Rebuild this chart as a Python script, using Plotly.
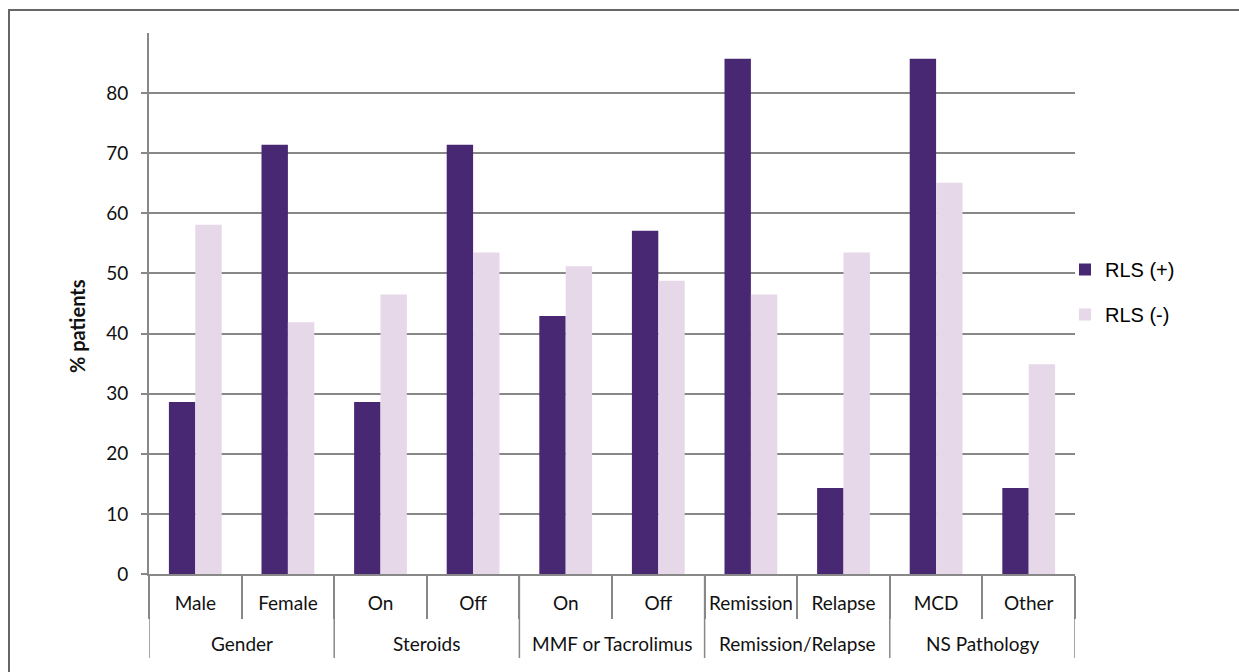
import plotly.graph_objects as go

groups = ["Gender", "Steroids", "MMF or Tacrolimus", "Remission/Relapse", "NS Pathology"]
subcats = ["Male", "Female", "On", "Off", "On", "Off", "Remission", "Relapse", "MCD", "Other"]
rls_pos = [28.6, 71.4, 28.6, 71.4, 42.9, 57.1, 85.7, 14.3, 85.7, 14.3]
rls_neg = [58.1, 41.9, 46.5, 53.5, 51.2, 48.8, 46.5, 53.5, 65.1, 34.9]
y_ticks = [0, 10, 20, 30, 40, 50, 60, 70, 80]

W, H = 1239, 672
L, R, T, B = 149, 1075, 33, 574
PH = B - T
PW = R - L

xs = list(range(len(subcats)))
grp_size = 2
TICK_FONT = dict(family="Lato, Open Sans, sans-serif", size=19, color="#111")

fig = go.Figure()
fig.add_trace(go.Bar(x=xs, y=rls_pos, name="RLS (+)", legendgroup="a",
                     marker=dict(color="#482873", line=dict(width=0))))
fig.add_trace(go.Bar(x=xs, y=rls_neg, name="RLS (-)", legendgroup="b",
                     marker=dict(color="#E6D7E9", line=dict(width=0))))

boundaries = [i - 0.5 for i in range(len(subcats) + 1)]

fig.update_layout(
    width=W, height=H, autosize=False,
    margin=dict(l=L, r=W - R, t=T, b=H - B, pad=0),
    paper_bgcolor="white", plot_bgcolor="white",
    barmode="group", bargap=0.43, bargroupgap=0,
    showlegend=True,
    legend=dict(x=(1065 - L) / PW, y=(B - 292) / PH, xanchor="left", yanchor="middle",
                font=dict(family="Liberation Sans, Arial", size=20, color="#000"),
                itemwidth=30, tracegroupgap=16, traceorder="grouped",
                bgcolor="rgba(0,0,0,0)"),
    font=TICK_FONT,
    xaxis=dict(range=[-0.5, len(subcats) - 0.5], tickvals=xs, ticktext=subcats,
               showgrid=False, showline=True, linecolor="#888", linewidth=2,
               ticks="", ticklabelstandoff=11, tickfont=TICK_FONT, zeroline=False,
               minor=dict(tickvals=boundaries, ticks="outside", ticklen=43,
                          tickcolor="#888", tickwidth=1.5, showgrid=False)),
    yaxis=dict(range=[0, 90], tickvals=y_ticks, showgrid=True, gridcolor="#888", gridwidth=2,
               showline=True, linecolor="#888", linewidth=2, ticks="outside", ticklen=6,
               tickcolor="#888", tickwidth=2, zeroline=False, ticklabelstandoff=9,
               tickfont=TICK_FONT),
)

# y-axis title
fig.add_annotation(x=(77 - L) / PW, y=(B - 326) / PH, xref="paper", yref="paper",
                   text="<b>% patients</b>", textangle=-90, showarrow=False,
                   xanchor="center", yanchor="middle",
                   font=dict(family="Lato, Open Sans, sans-serif", size=20, color="#111"))

# group labels and dividers
for gi, g in enumerate(groups):
    center = gi * grp_size + (grp_size - 1) / 2
    fig.add_annotation(x=center, y=(B - 643) / PH, xref="x", yref="paper", text=g,
                       showarrow=False, xanchor="center", yanchor="middle", font=TICK_FONT)
for gi in range(len(groups) + 1):
    xb = gi * grp_size - 0.5
    fig.add_shape(type="line", xref="x", yref="paper", x0=xb, x1=xb,
                  y0=0, y1=(B - 658) / PH, line=dict(color="#888", width=1.5))

# outer frame (top and left edges visible)
fig.add_shape(type="rect", xref="paper", yref="paper",
              x0=(9 - L) / PW, x1=(1300 - L) / PW,
              y0=(B - 700) / PH, y1=(B - 10) / PH,
              line=dict(color="#666", width=2), fillcolor="rgba(0,0,0,0)", layer="below")

fig.write_html("out.html")
